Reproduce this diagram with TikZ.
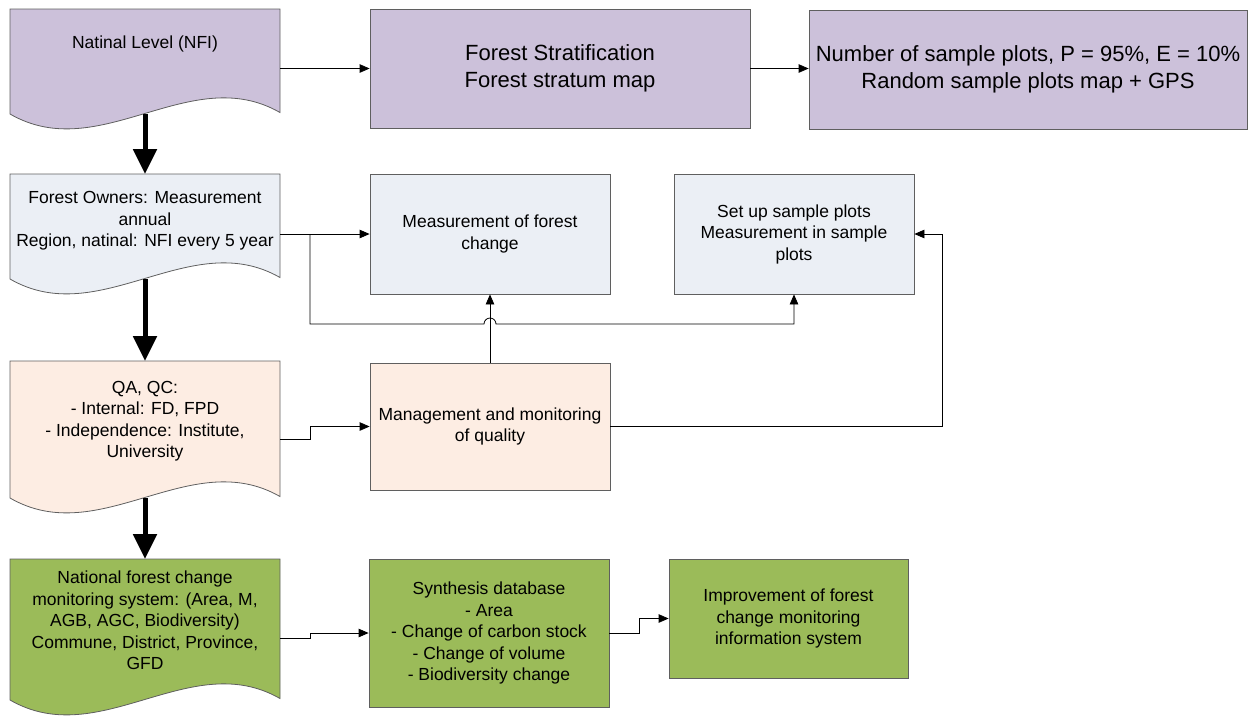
\documentclass[tikz,border=0pt]{standalone}
\usepackage{fontspec}
\setmainfont{Liberation Sans}
\usetikzlibrary{arrows.meta}
\definecolor{purp}{HTML}{CCC1DA}
\definecolor{bluegray}{HTML}{EBEFF5}
\definecolor{peach}{HTML}{FDEDE3}
\definecolor{grn}{HTML}{9BBB59}
\definecolor{edgec}{HTML}{5F5F5F}
\newcommand\docshape[3]{%
  \path[draw=edgec, line width=0.8pt, fill=#3] (10,#1) -- (280,#1) -- (280,{#2-1.5})
    .. controls (190,{#2-53}) and (100,{#2+52}) .. (10,#2) -- cycle;}
\begin{document}
\begin{tikzpicture}[x=1pt,y=-1pt,
  box/.style={draw=edgec, line width=0.8pt, inner sep=0pt, align=center,
    font=\fontsize{17.5}{21.5}\selectfont},
  big/.style={font=\fontsize{22}{27}\selectfont},
  lbl/.style={align=center, inner sep=0pt, font=\fontsize{17.5}{21.5}\selectfont},
  conn/.style={line width=0.8pt, -{Triangle[length=10pt,width=8.5pt]}},
  bigarrow/.style={line width=5pt, -{Triangle[length=25pt,width=23pt]}},
]
\useasboundingbox (0,0) rectangle (1253,716);

% document shapes
\docshape{9}{114}{purp}
\docshape{174}{279}{bluegray}
\docshape{361}{498}{peach}
\docshape{559}{700}{grn}

\node[lbl] (d1) at (145,44) {Natinal Level (NFI)};
\node[lbl] (d2) at (145,221) {Forest Owners: Measurement\\annual\\Region, natinal: NFI every 5 year};
\node[lbl] (d3) at (145,421) {QA, QC:\\- Internal: FD, FPD\\- Independence: Institute,\\University};
\node[lbl] (d4) at (145,620.5) {National forest change\\monitoring system: (Area, M,\\AGB, AGC, Biodiversity)\\Commune, District, Province,\\GFD};

\coordinate (d1b) at (145,114);
\coordinate (d2t) at (145,174);
\coordinate (d2b) at (145,279);
\coordinate (d3t) at (145,361);
\coordinate (d3b) at (145,498);
\coordinate (d4t) at (145,559);
\coordinate (d1r) at (280,68.5);
\coordinate (d2r) at (280,234);
\coordinate (d3r) at (280,439);
\coordinate (d4r) at (280,638);

% rectangles
\node[box, big, fill=purp, minimum width=380pt, minimum height=119pt] (A) at (560,68.5)
  {Forest Stratification\\Forest stratum map};
\node[box, big, fill=purp, minimum width=438pt, minimum height=119pt] (B) at (1028,69.5)
  {Number of sample plots, P = 95\%, E = 10\%\\Random sample plots map + GPS};
\node[box, fill=bluegray, minimum width=240pt, minimum height=120pt] (C) at (490,234)
  {Measurement of forest\\change};
\node[box, fill=bluegray, minimum width=240pt, minimum height=120pt] (D) at (794,234)
  {Set up sample plots\\Measurement in sample\\plots};
\node[box, fill=peach, minimum width=240pt, minimum height=127pt] (E) at (490,426.5)
  {Management and monitoring\\of quality};
\node[box, fill=grn, minimum width=240pt, minimum height=148pt] (F) at (489,633)
  {Synthesis database\\- Area\\- Change of carbon stock\\- Change of volume\\- Biodiversity change};
\node[box, fill=grn, minimum width=239pt, minimum height=119pt] (G) at (788.5,618.5)
  {Improvement of forest\\change monitoring\\information system};

% thick arrows
\draw[bigarrow] (d1b) -- (d2t);
\draw[bigarrow] (d2b) -- (d3t);
\draw[bigarrow] (d3b) -- (d4t);

% connectors
\draw[conn] (d1r) -- (A.west);
\draw[conn] (A.east) -- (A.east -| B.west);
\draw[conn] (d2r) -- (C.west);
\coordinate (j1) at (310,234);
\coordinate (hop) at (490,324);
\draw[conn] (j1) |- ([xshift=-6pt]hop) arc[start angle=180, end angle=360, radius=6]
  -- (hop -| D.south) -- (D.south);
\draw[conn] (E.north) -- (C.south);
\draw[conn] (E.east) -- ++(332,0) |- (D.east);
\draw[conn] (d3r) -- ++(30,0) |- (E.west);
\draw[conn] (d4r) -- ++(30,0) |- (F.west);
\draw[conn] (F.east) -- ++(30,0) |- (G.west);
\end{tikzpicture}
\end{document}
